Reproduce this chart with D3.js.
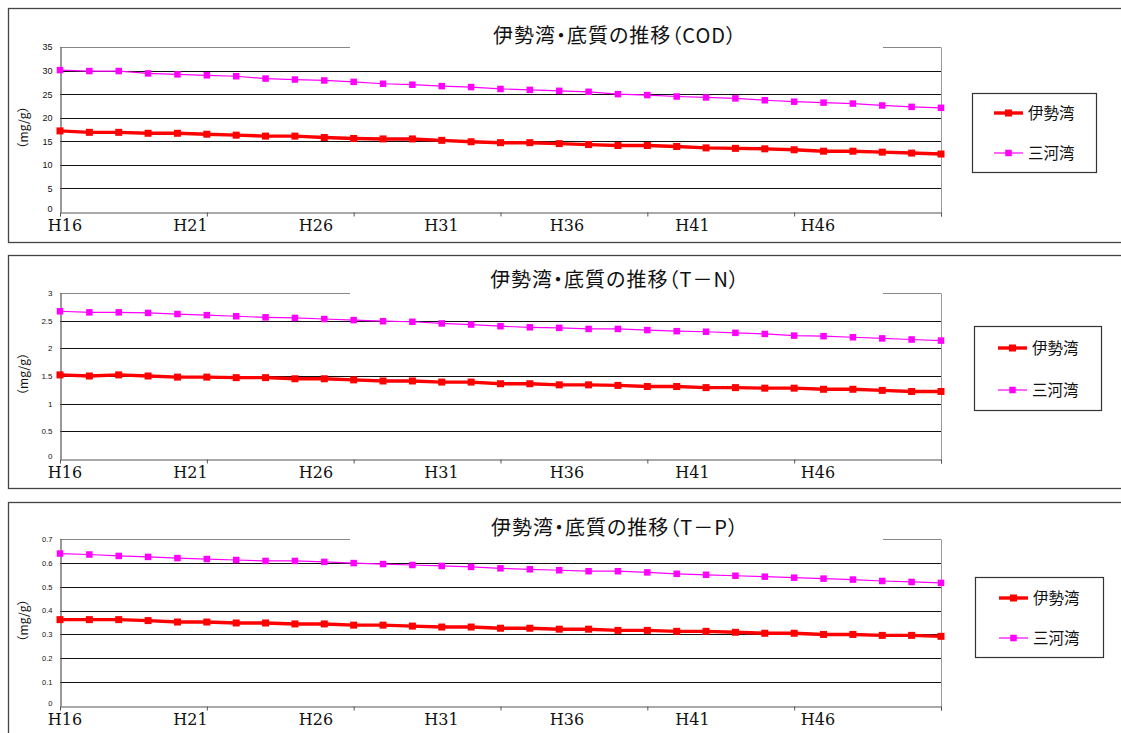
<!DOCTYPE html>
<html><head><meta charset="utf-8">
<script src="https://cdn.jsdelivr.net/npm/d3@7/dist/d3.min.js"></script>
<style>
html,body{margin:0;padding:0;background:#fff;}
svg{display:block;}
.ttl{font-feature-settings:"palt" 1;letter-spacing:1px;}
</style></head>
<body>
<svg id="chart" width="1121" height="733"></svg>
<script>
// ---- data ----
const categories = ["H16","H17","H18","H19","H20","H21","H22","H23","H24","H25","H26","H27","H28","H29","H30","H31","H32","H33","H34","H35","H36","H37","H38","H39","H40","H41","H42","H43","H44","H45","H46"];
const xLabels = ["H16","H21","H26","H31","H36","H41","H46"];
const tickCategories = ["H16","H21","H26","H31","H36","H41","H46"];
const seriesNames = ["伊勢湾","三河湾"];
const titles = ["伊勢湾・底質の推移（COD）","伊勢湾・底質の推移（T－N）","伊勢湾・底質の推移（T－P）"];
const yUnit = "（mg/g）";
const codTicks = [0,5,10,15,20,25,30,35];
const tnTicks = [0,0.5,1,1.5,2,2.5,3];
const tpTicks = [0,0.1,0.2,0.3,0.4,0.5,0.6,0.7];
const codIse = [17.2,16.9,16.9,16.7,16.7,16.5,16.3,16.1,16.1,15.8,15.6,15.5,15.5,15.2,14.9,14.7,14.7,14.5,14.3,14.1,14.1,13.9,13.6,13.5,13.4,13.2,12.9,12.9,12.7,12.5,12.3];
const codMikawa = [30.1,29.9,29.9,29.4,29.2,29.0,28.8,28.3,28.1,27.9,27.6,27.2,27.0,26.7,26.5,26.1,25.9,25.7,25.5,25.0,24.8,24.5,24.3,24.1,23.7,23.4,23.2,23.0,22.6,22.3,22.1];
const tnIse = [1.52,1.50,1.52,1.50,1.48,1.48,1.47,1.47,1.45,1.45,1.43,1.41,1.41,1.39,1.39,1.36,1.36,1.34,1.34,1.33,1.31,1.31,1.29,1.29,1.28,1.28,1.26,1.26,1.24,1.22,1.22];
const tnMikawa = [2.67,2.65,2.65,2.64,2.62,2.60,2.58,2.56,2.55,2.53,2.51,2.49,2.48,2.45,2.43,2.40,2.38,2.37,2.35,2.35,2.33,2.31,2.30,2.28,2.26,2.23,2.22,2.20,2.18,2.16,2.14];
const tpIse = [0.362,0.362,0.362,0.358,0.352,0.352,0.348,0.348,0.344,0.344,0.339,0.339,0.335,0.331,0.331,0.326,0.326,0.322,0.322,0.317,0.317,0.313,0.313,0.309,0.305,0.305,0.300,0.300,0.296,0.296,0.292];
const tpMikawa = [0.639,0.635,0.629,0.625,0.620,0.616,0.612,0.608,0.608,0.604,0.599,0.595,0.591,0.587,0.583,0.577,0.573,0.569,0.565,0.565,0.560,0.554,0.550,0.546,0.542,0.538,0.534,0.530,0.524,0.520,0.516];

// ---- layout ----
const panels = [
  {title: titles[0], ticks: codTicks, ise: codIse, mik: codMikawa, top: 8, h: 234, tickFont: 9, plotTop: 39, titleY: 28, legend: {x: 972, y: 85, w: 124, h: 79, r1: 20, r2: 60, lx: 994}},
  {title: titles[1], ticks: tnTicks, ise: tnIse, mik: tnMikawa, top: 255, h: 233, tickFont: 8, plotTop: 38, titleY: 25, legend: {x: 974, y: 71, w: 127, h: 84, r1: 22, r2: 64, lx: 998}},
  {title: titles[2], ticks: tpTicks, ise: tpIse, mik: tpMikawa, top: 502, h: 260, tickFont: 7.5, plotTop: 37, titleY: 26, legend: {x: 975, y: 75, w: 128, h: 80, r1: 21, r2: 61, lx: 999}}
];
const plotLeft = 60, plotRight = 941, plotBottom = 204;
const colors = ["#ff0000", "#ff00ff"];
const cjk = "'Noto Sans CJK JP', sans-serif";

const svg = d3.select("#chart");

const x = d3.scalePoint().domain(categories).range([plotLeft, plotRight]);
const xLab = d3.scalePoint().domain(xLabels).range([65, 818]);

panels.forEach((p) => {
  const g = svg.append("g").attr("transform", `translate(0,${p.top})`);
  // panel border
  g.append("rect").attr("x", 8.5).attr("y", 0.5).attr("width", 1125).attr("height", p.h)
    .attr("fill", "#fff").attr("stroke", "#444").attr("stroke-width", 1.3);

  const yMax = d3.max(p.ticks);
  const y = d3.scaleLinear().domain([0, yMax]).range([plotBottom, p.plotTop]);

  // gridlines
  g.append("g").selectAll("line").data(p.ticks.filter(t => t > 0)).join("line")
    .attr("x1", plotLeft).attr("x2", plotRight)
    .attr("y1", d => Math.round(y(d)) + 0.5).attr("y2", d => Math.round(y(d)) + 0.5)
    .attr("stroke", d => d === yMax ? "#888" : "#111").attr("stroke-width", 1);

  // right edge
  g.append("line").attr("x1", plotRight + 0.5).attr("x2", plotRight + 0.5)
    .attr("y1", Math.round(y(yMax)) + 0.5).attr("y2", plotBottom)
    .attr("stroke", "#999").attr("stroke-width", 1);

  // title background & title
  g.append("rect").attr("x", 350).attr("y", 8).attr("width", 533).attr("height", Math.round(y(yMax)) + 2 - 8).attr("fill", "#fff");
  g.append("text").attr("class", "ttl").attr("x", 615).attr("y", p.titleY).attr("dy", "0.36em")
    .attr("text-anchor", "middle").attr("font-family", cjk).attr("font-size", 20)
    .attr("fill", "#111").text(p.title);

  // y axis
  const yAxis = d3.axisLeft(y).tickValues(p.ticks).tickSize(0).tickPadding(8).tickFormat(d3.format("~g"));
  const ya = g.append("g").attr("transform", `translate(${plotLeft + 0.5},0)`).call(yAxis);
  ya.select(".domain").attr("stroke", "#555").attr("stroke-width", 1.2);
  ya.selectAll("text").attr("font-family", "'Liberation Sans', Arial, sans-serif")
    .attr("font-size", p.tickFont).attr("fill", "#111")
    .attr("y", d => d === 0 ? -3 : 0);

  // x axis
  const xAxis = d3.axisBottom(x).tickValues(tickCategories.concat([categories[categories.length - 1]])).tickSize(4).tickSizeOuter(0).tickFormat("");
  const xa = g.append("g").attr("transform", `translate(0,${plotBottom + 0.5})`).call(xAxis);
  xa.select(".domain").attr("stroke", "#555").attr("stroke-width", 1.2);
  xa.selectAll(".tick line").attr("stroke", "#555");

  g.append("g").selectAll("text").data(xLabels).join("text")
    .attr("x", d => xLab(d)).attr("y", 222.5)
    .attr("text-anchor", "middle").attr("font-family", "'DejaVu Serif', serif")
    .attr("font-size", 16).attr("fill", "#111").text(d => d);

  // unit label
  g.append("text").attr("transform", `translate(24,${(p.plotTop + plotBottom) / 2 - 2}) rotate(-90)`)
    .attr("text-anchor", "middle").attr("dy", "0.35em")
    .attr("font-family", cjk).attr("font-size", 12).attr("fill", "#111").text(yUnit);

  // series
  const sets = [
    {vals: p.ise, color: colors[0], w: 3.4, m: 7},
    {vals: p.mik, color: colors[1], w: 1.2, m: 6.5}
  ];
  const line = d3.line().x((d, i) => x(categories[i])).y(d => y(d));
  sets.slice().reverse().forEach(s => {
    g.append("path").datum(s.vals).attr("d", line).attr("fill", "none")
      .attr("stroke", s.color).attr("stroke-width", s.w);
    g.append("g").selectAll("rect").data(s.vals).join("rect")
      .attr("x", (d, i) => x(categories[i]) - s.m / 2).attr("y", d => y(d) - s.m / 2)
      .attr("width", s.m).attr("height", s.m).attr("fill", s.color);
  });

  // legend
  const L = p.legend;
  const lg = g.append("g");
  lg.append("rect").attr("x", L.x + 0.5).attr("y", L.y + 0.5).attr("width", L.w).attr("height", L.h)
    .attr("fill", "#fff").attr("stroke", "#333").attr("stroke-width", 1.2);
  [L.r1, L.r2].forEach((r, k) => {
    const s = sets[k];
    const yy = L.y + r;
    lg.append("line").attr("x1", L.lx).attr("x2", L.lx + 29).attr("y1", yy).attr("y2", yy)
      .attr("stroke", s.color).attr("stroke-width", s.w);
    lg.append("rect").attr("x", L.lx + 14.5 - s.m / 2).attr("y", yy - s.m / 2)
      .attr("width", s.m).attr("height", s.m).attr("fill", s.color);
    lg.append("text").attr("x", L.lx + 34).attr("y", yy).attr("dy", "0.36em")
      .attr("font-family", cjk).attr("font-size", 15.5).attr("fill", "#111").text(seriesNames[k]);
  });
});
</script>
</body></html>
